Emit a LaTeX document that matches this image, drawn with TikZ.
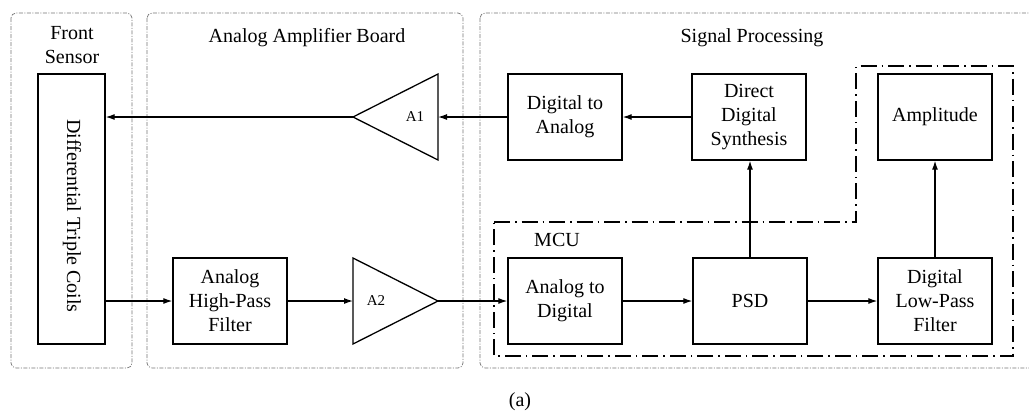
\documentclass[tikz,border=0pt]{standalone}
\usepackage{fontspec}
\setmainfont{Liberation Serif}
\usetikzlibrary{arrows.meta}
\begin{document}
\begin{tikzpicture}[x=1pt,y=-1pt,
  blk/.style={draw, line width=1.3pt, minimum width=114pt, minimum height=86pt, align=center, inner sep=2pt, font=\fontsize{20}{24}\selectfont},
  grp/.style={draw=black!55, line width=0.7pt, rounded corners=5pt, dash pattern=on 4pt off 1.5pt on 1pt off 1.5pt},
  mcu/.style={draw, line width=1.6pt, dash pattern=on 16pt off 5pt on 1.5pt off 5pt},
  title/.style={font=\fontsize{20}{24}\selectfont, align=center, inner sep=0pt},
  amp/.style={draw, line width=1.3pt, line join=miter},
  amplabel/.style={font=\fontsize{15}{18}\selectfont, inner sep=0pt},
  conn/.style={line width=1.2pt, -{Latex[length=9pt,width=6pt]}}]
\useasboundingbox (0,0) rectangle (1029,416);
% groups
\draw[grp] (11,13) rectangle (132,368);
\draw[grp] (147,13) rectangle (463,368);
\draw[grp] (480,13) rectangle (1040,368);
\node[title] (tfs) at (72,45) {Front\\Sensor};
\node[title] (taab) at (307,38) {Analog Amplifier Board};
\node[title] (tsp) at (752,38) {Signal Processing};
% MCU boundary
\draw[mcu] (494,222) -- (856,222) -- (856,66) -- (1013,66) -- (1013,356) -- (494,356) -- cycle;
\node[title] (tmcu) at (557,240) {MCU};
% sensor
\node[draw, line width=1.3pt, minimum width=67pt, minimum height=270pt, inner sep=0pt] (dtc) at (71.5,209) {};
\node[title, rotate=-90] (dtct) at (72,216) {Differential Triple Coils};
% blocks
\node[blk] (dta) at (565,117) {Digital to\\Analog};
\node[blk] (dds) at (749,117) {Direct\\Digital\\Synthesis};
\node[blk] (ampl) at (935,117) {Amplitude};
\node[blk] (hpf) at (230,301) {Analog\\High-Pass\\Filter};
\node[blk] (atd) at (565,301) {Analog to\\Digital};
\node[blk] (psd) at (750,301) {PSD};
\node[blk] (lpf) at (935,301) {Digital\\Low-Pass\\Filter};
% amplifiers
\coordinate (a1tip) at (353,117);
\coordinate (a1base) at (438,117);
\draw[amp] (a1tip) -- (438,74) -- (438,160) -- cycle;
\node[amplabel] (a1) at (415,117) {A1};
\coordinate (a2base) at (353,301);
\coordinate (a2tip) at (438,301);
\draw[amp] (a2tip) -- (353,258) -- (353,344) -- cycle;
\node[amplabel] (a2) at (376,301) {A2};
% connectors
\draw[conn] (dds.west) -- (dta.east);
\draw[conn] (dta.west) -- (a1base);
\draw[conn] (a1tip) -- (a1tip -| dtc.east);
\draw[conn] (hpf.west -| dtc.east) -- (hpf.west);
\draw[conn] (hpf.east) -- (a2base);
\draw[conn] (a2tip) -- (atd.west);
\draw[conn] (atd.east) -- (psd.west);
\draw[conn] (psd.east) -- (lpf.west);
\draw[conn] (psd.north) -- (psd.north |- dds.south);
\draw[conn] (lpf.north) -- (ampl.south);
% caption
\node[title] (cap) at (520,402) {(a)};
\end{tikzpicture}
\end{document}
